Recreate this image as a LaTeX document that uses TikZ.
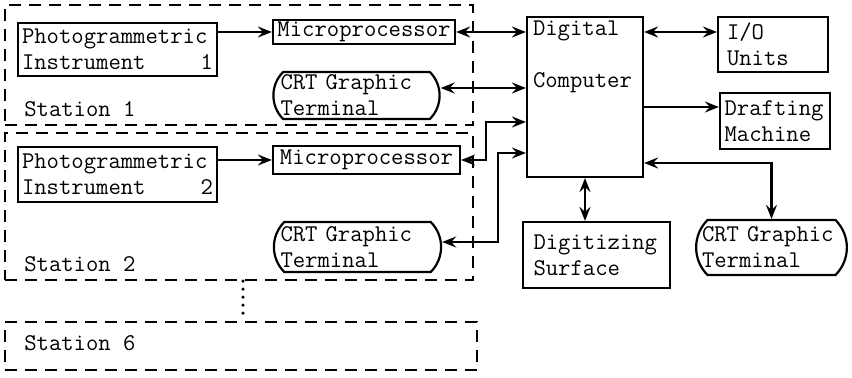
\documentclass[tikz,border=0pt]{standalone}
\usepackage{tikz}
\usetikzlibrary{positioning,shapes.misc,arrows.meta}
\tikzset{c-box/.style={rectangle, draw=black, line width=1.1pt, align=left, inner xsep=2pt, inner ysep=1pt},
c-term/.style={rounded rectangle, rounded rectangle arc length=90, draw=black, line width=1.1pt, align=left, inner xsep=0pt, inner ysep=1pt},
c-station/.style={rectangle, draw=black, line width=1.1pt, dash pattern=on 6pt off 4pt},
c-label/.style={anchor=base west, inner sep=0pt},
arrow/.style={line width=1.1pt,->,>={Stealth[length=7pt,width=5.5pt,inset=2.5pt]}},
darrow/.style={line width=1.1pt,<->,>={Stealth[length=7pt,width=5.5pt,inset=2.5pt]}},
dotline/.style={line width=1.8pt, line cap=round, dash pattern=on 0pt off 4pt}}

\begin{document}
\begin{tikzpicture}[x=0.5pt, y=-0.5pt, every node/.style={font=\ttfamily\fontsize{12}{13}\selectfont}]
\useasboundingbox (0,0) rectangle (852,378);
% stations
\node (st1) [c-station, minimum width=234pt, minimum height=60pt] at (239,65) {};
\node (st2) [c-station, minimum width=234pt, minimum height=73.5pt] at (239,206.5) {};
\node (st6) [c-station, minimum width=236pt, minimum height=24pt] at (241,346) {};
\node (lb1) [c-label] at ([xshift=10pt,yshift=5pt]st1.south west) {Station 1};
\node (lb2) [c-label] at ([xshift=10pt,yshift=5pt]st2.south west) {Station 2};
\node (lb6) [c-label] at ([xshift=10pt,yshift=10.5pt]st6.south west) {Station 6};
\draw [dotline] ([xshift=2pt]st2.south) -- ([xshift=2pt]st2.south |- st6.north);

\node (pi1) [c-box, minimum width=99.5pt, minimum height=26.5pt, text width=95.5pt] at (117.5,49.5) {
Photogrammetric\\
Instrument\hfill 1
};
\node (mp1) [c-box, minimum width=91pt, minimum height=12pt] at (364,32) {Microprocessor};
\node (crt1) [c-term, minimum height=23.5pt, text width=76pt] at (356.5,95.5) {
CRT Graphic\\
Terminal
};
\node (pi2) [c-box, minimum width=99.5pt, minimum height=27.5pt, text width=95.5pt] at (117.5,174.5) {
Photogrammetric\\
Instrument\hfill 2
};
\node (mp2) [c-box, minimum width=93.5pt, minimum height=14pt] at (366.5,160) {Microprocessor};
\node (crt2) [c-term, minimum height=25pt, text width=77pt] at (357.5,247) {
CRT Graphic\\
Terminal
};

\node (comp) [c-box, text width=52pt, inner xsep=3pt, inner ysep=3pt, text height=6.5pt, text depth=67.5pt] at (585,97) {
Digital\\[13pt]
Computer
};
\node (io) [c-box, minimum width=55pt, minimum height=27.5pt, text width=46pt] at (773,44.5) {
I/O\\
Units
};
\node (draft) [c-box, minimum width=55pt, minimum height=28pt, text width=50.4pt] at (775,121) {
Drafting\\
Machine
};
\node (dig) [c-box, minimum width=73.5pt, minimum height=33pt, text width=63pt] at (596.5,255) {
Digitizing\\
Surface
};
\node (crt3) [c-term, minimum height=27.5pt, text width=69.5pt] at (771.5,247.5) {
CRT Graphic\\
Terminal
};

\draw [arrow] (pi1.east |- mp1) -- (mp1.west);
\draw [arrow] (pi2.east |- mp2) -- (mp2.west);
\draw [darrow] (mp1.east) -- (mp1.east -| comp.west);
\draw [darrow] ([yshift=3.75pt]crt1.east) -- ([yshift=3.75pt]crt1.east -| comp.west);
\draw [darrow] (mp2.east) -- ++(12.5pt,0) |- ([yshift=-12.5pt]comp.west);
\draw [darrow] ([yshift=2.5pt]crt2.east) -- ++(28pt,0) |- ([yshift=-28pt]comp.west);
\draw [darrow] (comp.east |- mp1) -- (io.west |- mp1);
\draw [arrow] ([yshift=-5pt]comp.east) -- ([yshift=-5pt]comp.east -| draft.west);
\draw [darrow] ([yshift=-33pt]comp.east) -| (crt3.north);
\draw [darrow] (comp.south) -- (comp.south |- dig.north);
\end{tikzpicture}
\end{document}
